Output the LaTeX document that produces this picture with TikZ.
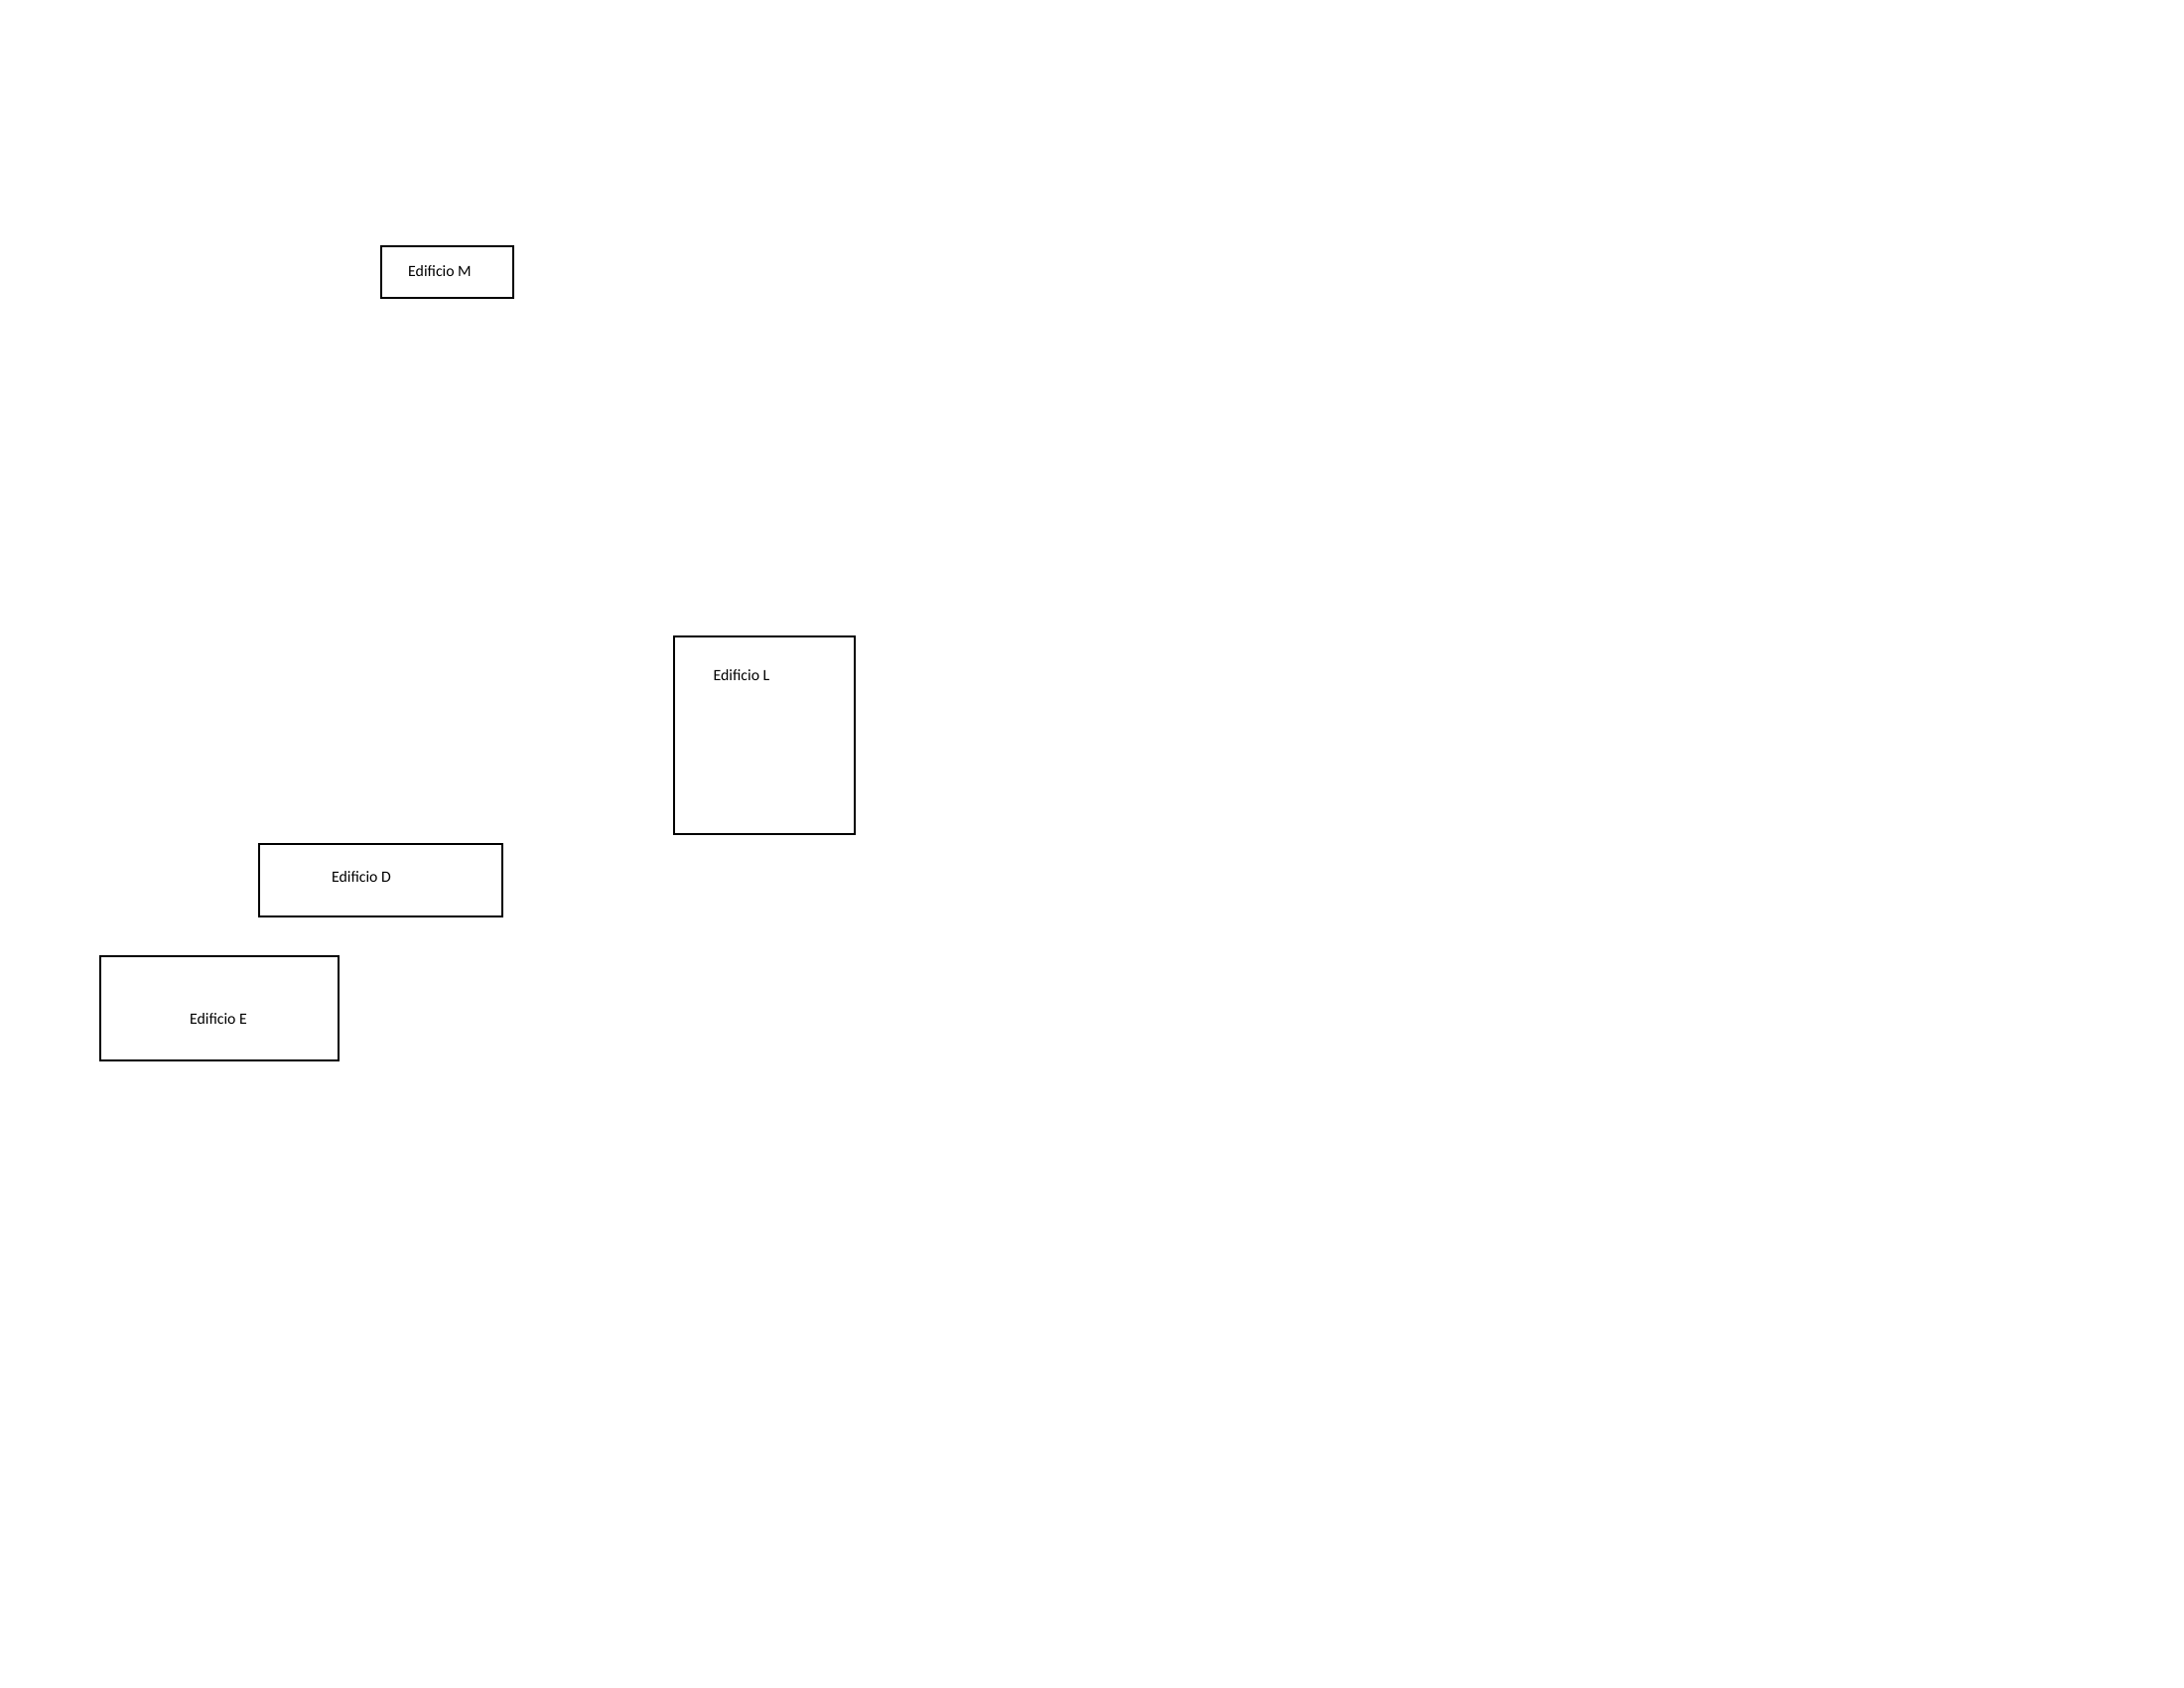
\documentclass[tikz,border=0pt]{standalone}
\usepackage{fontspec}
\setmainfont{Carlito}
\begin{document}
\begin{tikzpicture}[x=0.1mm,y=-0.1mm,
  edificio/.style={draw,line width=0.45pt,inner sep=0pt},
  etiqueta/.style={font=\fontsize{4.5}{5}\selectfont,inner sep=0pt}]
\useasboundingbox (0,0) rectangle (2200,1700);
\node[edificio,minimum width=13.3mm,minimum height=5.2mm]  (edM) at (450.5,274) {};
\node[edificio,minimum width=18.2mm,minimum height=19.9mm] (edL) at (770,740.5) {};
\node[edificio,minimum width=24.5mm,minimum height=7.3mm]  (edD) at (383.5,886.5) {};
\node[edificio,minimum width=24mm,minimum height=10.5mm]   (edE) at (221,1015.5) {};
\node[etiqueta] (labM) at (443,273)  {Edificio M};
\node[etiqueta] (labL) at (747,680)  {Edificio L};
\node[etiqueta] (labD) at (364,883)  {Edificio D};
\node[etiqueta] (labE) at (220,1026) {Edificio E};
\end{tikzpicture}
\end{document}
